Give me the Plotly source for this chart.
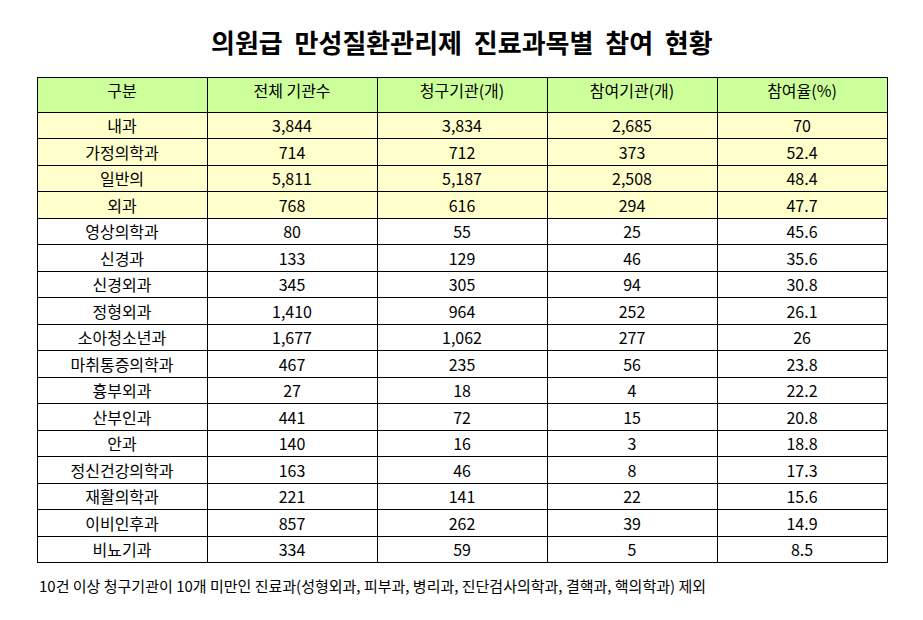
import plotly.graph_objects as go

headers = ["구분", "전체 기관수", "청구기관(개)", "참여기관(개)", "참여율(%)"]
depts = ["내과", "가정의학과", "일반의", "외과", "영상의학과", "신경과", "신경외과", "정형외과",
         "소아청소년과", "마취통증의학과", "흉부외과", "산부인과", "안과", "정신건강의학과",
         "재활의학과", "이비인후과", "비뇨기과"]
total = ["3,844", "714", "5,811", "768", "80", "133", "345", "1,410", "1,677", "467", "27",
         "441", "140", "163", "221", "857", "334"]
claim = ["3,834", "712", "5,187", "616", "55", "129", "305", "964", "1,062", "235", "18",
         "72", "16", "46", "141", "262", "59"]
part = ["2,685", "373", "2,508", "294", "25", "46", "94", "252", "277", "56", "4", "15",
        "3", "8", "22", "39", "5"]
rate = ["70", "52.4", "48.4", "47.7", "45.6", "35.6", "30.8", "26.1", "26", "23.8", "22.2",
        "20.8", "18.8", "17.3", "15.6", "14.9", "8.5"]

fill = ["#ffffcc" if i < 4 else "white" for i in range(len(depts))]
font = "Noto Sans CJK KR"
off = 8

fig = go.Figure(go.Table(
    domain=dict(x=[(37-off)/923, (887-off)/923], y=[20/620, 1-(77-off)/620]),
    columnwidth=[1, 1, 1, 1, 1],
    header=dict(values=headers, fill_color="#ccff99", line=dict(color="black", width=1),
                align="center", height=35, font=dict(family=font, size=16, color="black")),
    cells=dict(values=[depts, total, claim, part, rate], fill_color=[fill] * 5,
               line=dict(color="black", width=1), align="center", height=26.5,
               font=dict(family=font, size=16, color="black")),
))
fig.update_layout(
    width=923, height=620, margin=dict(l=0, r=0, t=0, b=0), paper_bgcolor="white",
    annotations=[
        dict(text="<b>의원급  만성질환관리제  진료과목별  참여  현황</b>", x=(462-off)/923, y=1-(42-off)/620,
             xref="paper", yref="paper", showarrow=False, yanchor="middle",
             font=dict(family=font, size=26, color="black")),
        dict(text="10건 이상 청구기관이 10개 미만인 진료과(성형외과, 피부과, 병리과, 진단검사의학과, 결핵과, 핵의학과) 제외",
             x=(37-off)/923, y=1-(585-off)/620, xref="paper", yref="paper", xanchor="left",
             yanchor="middle", showarrow=False,
             font=dict(family=font, size=15, color="black")),
    ],
)
fig.write_html("out.html")
